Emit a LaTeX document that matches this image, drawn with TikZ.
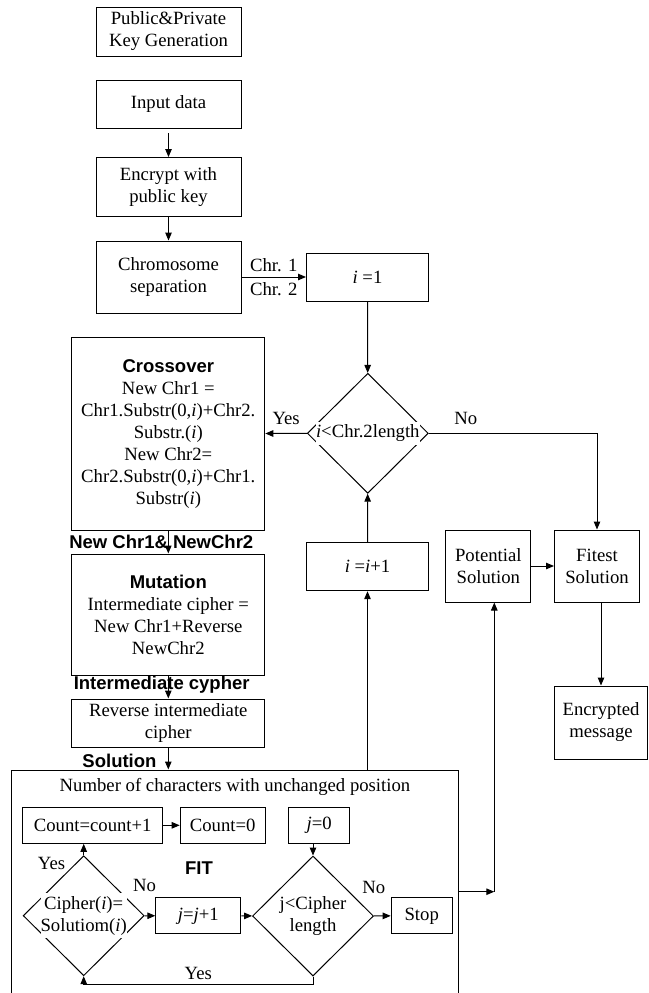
\documentclass[tikz,border=0pt]{standalone}
\usepackage{fontspec}
\setmainfont{Liberation Serif}
\setsansfont{Liberation Sans}
\usepackage{tikz}
\usetikzlibrary{shapes.geometric, arrows.meta, positioning, calc}

\begin{document}
\begin{tikzpicture}[
    ->,
    >={Triangle[length=8pt,width=6.5pt]},
    x=1pt, y=-1pt,              % picture laid out in pixel units, top down
    line width=1pt,
    font=\fontsize{18.7}{22}\selectfont,
    box/.style={draw, rectangle, align=center, inner sep=0pt},
    decision/.style={draw, diamond, minimum width=121pt, minimum height=120pt, inner sep=0pt},
    dtext/.style={fill=white, align=center, inner xsep=0pt, inner ysep=3pt},
    edgelab/.style={inner sep=5pt},
    taglab/.style={font=\fontsize{18.5}{22}\selectfont\sffamily\bfseries},
]

\clip (0,0) rectangle (648,993);

% -------------------------------------------------
% Key generation and chromosome preparation
% -------------------------------------------------
\node[box, minimum width=145pt, minimum height=49pt] (keygen)  at (168.5,31.5) {Public\&Private\\Key Generation};
\node[box, minimum width=145pt, minimum height=48pt] (input)   at (168.5,104)  {Input data};
\node[box, minimum width=145pt, minimum height=59pt] (encrypt) at (168.5,187)  {Encrypt with\\public key};
\node[box, minimum width=145pt, minimum height=72pt] (chromo)  at (168.5,277)  {Chromosome\\separation};

\node[box, minimum width=122pt, minimum height=48pt] (ione) at (367.5,277) {\textit{i} =1};
\node[decision] (cond) at (367.8,433.3) {};
\node[dtext] (condtext) at (cond.center) {\textit{i}<Chr.2length};
\node[box, minimum width=122pt, minimum height=48pt] (iinc) at (367.5,566.7) {\textit{i} =\textit{i}+1};

% -------------------------------------------------
% Genetic operators
% -------------------------------------------------
\node[box, minimum width=193pt, minimum height=193pt] (crossover) at (168.3,433.7)
    {{\fontsize{18.5}{22}\selectfont\sffamily\bfseries Crossover}\\New Chr1 =\\Chr1.Substr(0,\textit{i})+Chr2.\\Substr.(\textit{i})\\New Chr2=\\Chr2.Substr(0,\textit{i})+Chr1.\\Substr(\textit{i})};
\node[box, minimum width=193pt, minimum height=121pt] (mutation) at (168.3,614.5)
    {{\fontsize{18.5}{22}\selectfont\sffamily\bfseries Mutation}\\Intermediate cipher =\\New Chr1+Reverse\\NewChr2};
\node[box, minimum width=193pt, minimum height=48pt] (reverse) at (168.3,723) {Reverse intermediate\\cipher};

% -------------------------------------------------
% Result side
% -------------------------------------------------
\node[box, minimum width=85pt, minimum height=72pt] (potential) at (488.3,566) {Potential\\Solution};
\node[box, minimum width=85pt, minimum height=72pt] (fitest)    at (597,566)   {Fitest\\Solution};
\node[box, minimum width=93pt, minimum height=73pt] (encrypted) at (601,722.5) {Encrypted\\message};

% -------------------------------------------------
% Fitness block (runs off the bottom of the page)
% -------------------------------------------------
\node[box, minimum width=446.6pt, minimum height=260pt] (fitbox) at (235,900) {};
\node (fittitle) at (235,787.3) {Number of characters with unchanged position};
\node[taglab] (fitlab) at (199,867.7) {FIT};

\node[box, minimum width=140pt, minimum height=36pt] (countinc)  at (92.7,825.3)  {Count=count+1};
\node[box, minimum width=85pt,  minimum height=36pt] (countzero) at (222.7,825.3) {Count=0};
\node[box, minimum width=61pt,  minimum height=36pt] (jzero)     at (319.2,825.3) {\textit{j}=0};

\node[decision] (match) at (83.7,915.7) {};
\node[dtext] (matchtext) at (match.center) {Cipher(\textit{i})=\\Solutiom(\textit{i})};
\node[box, minimum width=85pt, minimum height=36pt] (jinc) at (198.3,915.8) {\textit{j}=\textit{j}+1};
\node[decision] (jcond) at (313,916) {};
\node[dtext] (jcondtext) at (jcond.center) {j<Cipher\\length};
\node[box, minimum width=61pt, minimum height=36pt] (stop) at (421.7,915.8) {Stop};

\coordinate (junct) at (494.3,891.7);

% -------------------------------------------------
% Connectors
% -------------------------------------------------
\path
(input) edge[shorten <=4.7pt] (encrypt)
(encrypt) edge (chromo)
(chromo) edge node[edgelab, above] {Chr. 1} node[edgelab, below] {Chr. 2} (ione)
(ione) edge (cond)
(cond) edge node[edgelab, above=3pt] {Yes} (crossover)
(iinc) edge (cond)
(crossover) edge node[taglab, xshift=-7pt] {New Chr1\& NewChr2} (mutation)
(mutation) edge node[taglab, xshift=-6.6pt, yshift=2.7pt] {Intermediate cypher} (reverse)
(potential) edge (fitest)
(countinc) edge (countzero)
(match) edge node[edgelab, above=19pt, pos=0] {No} (jinc)
(jinc) edge (jcond)
(jcond) edge node[edgelab, above=17pt, pos=0] {No} (stop);

\draw (cond.east) -| node[edgelab, above=3pt, pos=0.11] {No} (fitest.north);
\draw (fitest.south -| encrypted.north) -- (encrypted.north);
\draw (reverse.south) -- node[taglab, left=8pt, pos=0.6] {Solution} (reverse.south |- fitbox.north);
\draw (iinc.south |- fitbox.north) -- (iinc.south);
\draw (jcond.north |- jzero.south) -- (jcond.north);
\draw (match.north) -- node[edgelab, anchor=north east, pos=0, xshift=-13pt, yshift=3pt] {Yes} (match.north |- countinc.south);
\draw (jcond.south) -- ++(0,8.3) -| node[edgelab, above, pos=0.25] {Yes} (match.south);
\draw (fitbox.east |- junct) -- (junct);
\draw (junct) -- (junct |- potential.south);

\end{tikzpicture}
\end{document}
